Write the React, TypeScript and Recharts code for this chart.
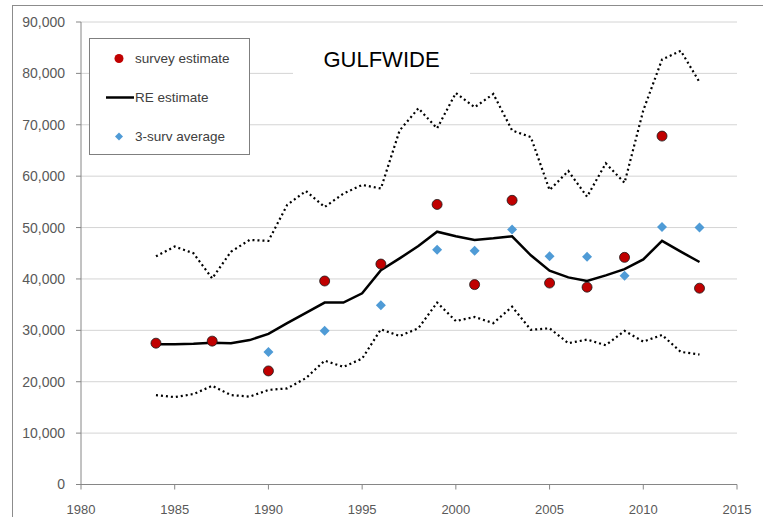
import { ComposedChart, Line, Scatter, XAxis, YAxis, CartesianGrid } from 'recharts';

const years = [
  1984, 1985, 1986, 1987, 1988, 1989, 1990, 1991, 1992, 1993,
  1994, 1995, 1996, 1997, 1998, 1999, 2000, 2001, 2002, 2003,
  2004, 2005, 2006, 2007, 2008, 2009, 2010, 2011, 2012, 2013
];

const reEstimate = [
  27300, 27300, 27400, 27600, 27500, 28100, 29300, 31400, 33400, 35400,
  35400, 37200, 41700, 44000, 46400, 49200, 48300, 47600, 47900, 48300,
  44600, 41600, 40300, 39600, 40700, 41900, 43800, 47400, 45300, 43300
];

const upperBound = [
  44400, 46300, 45000, 40100, 45300, 47600, 47400, 54400, 57100, 54000,
  56600, 58300, 57600, 68900, 73200, 69300, 76200, 73400, 76000, 68900,
  67600, 57300, 61000, 56000, 62500, 58700, 72800, 82700, 84400, 78300
];

const lowerBound = [
  17400, 17000, 17600, 19200, 17400, 17100, 18400, 18700, 20700, 24100,
  22900, 24500, 30200, 28900, 30400, 35400, 31800, 32600, 31400, 34600,
  30100, 30400, 27500, 28200, 27100, 29900, 27800, 29100, 25800, 25300
];

const surveyYears = [1984, 1987, 1990, 1993, 1996, 1999, 2001, 2003, 2005, 2007, 2009, 2011, 2013];
const surveyEstimate = [27500, 27900, 22100, 39600, 42900, 54500, 38900, 55300, 39200, 38400, 44200, 67800, 38200];

const avgYears = [1990, 1993, 1996, 1999, 2001, 2003, 2005, 2007, 2009, 2011, 2013];
const threeSurvAverage = [25800, 29900, 34900, 45700, 45500, 49600, 44400, 44300, 40600, 50100, 50000];

const xTicks = [1980, 1985, 1990, 1995, 2000, 2005, 2010, 2015];
const yTicks = [0, 10000, 20000, 30000, 40000, 50000, 60000, 70000, 80000, 90000];

const legendLabels = ['survey estimate', 'RE estimate', '3-surv average'];

const annual = years.map((year, i) => ({
  year,
  re: reEstimate[i],
  upper: upperBound[i],
  lower: lowerBound[i]
}));
const surveyData = surveyYears.map((year, i) => ({ year, value: surveyEstimate[i] }));
const avgData = avgYears.map((year, i) => ({ year, value: threeSurvAverage[i] }));

const FONT = '"Liberation Sans", Arial, sans-serif';
const RED = '#c00000';
const BLUE = '#4f9bd6';

const RedDot = (props: any) => (
  <circle cx={props.cx} cy={props.cy} r={5} fill={RED} stroke="#1a1a1a" strokeWidth={0.8} />
);

const Diamond = (props: any) => {
  const { cx, cy } = props;
  const s = 5;
  return <polygon points={`${cx},${cy - s} ${cx + s},${cy} ${cx},${cy + s} ${cx - s},${cy}`} fill={BLUE} />;
};

function LegendIcon({ index }: { index: number }) {
  return (
    <svg width={45} height={39} style={{ flex: 'none' }}>
      {index === 0 && <circle cx={29} cy={19.5} r={4.5} fill={RED} />}
      {index === 1 && <line x1={16} x2={44} y1={19.5} y2={19.5} stroke="#000" strokeWidth={2.5} />}
      {index === 2 && <polygon points="29,15.5 33,19.5 29,23.5 25,19.5" fill={BLUE} />}
    </svg>
  );
}

export default function App() {
  return (
    <div style={{ position: 'absolute', left: 0, top: 0, width: 763, height: 517, overflow: 'hidden', background: '#fff' }}>
      <div
        style={{
          position: 'absolute', left: 12, top: 5, width: 900, height: 700,
          borderTop: '1px solid #8c8c8c', borderLeft: '1px solid #8c8c8c'
        }}
      />
      <ComposedChart
        width={763}
        height={517}
        data={annual}
        margin={{ top: 22, right: 26, left: 0, bottom: 0 }}
        style={{ position: 'absolute', left: 0, top: 0 }}
      >
        <CartesianGrid vertical={false} stroke="#d4d4d4" strokeWidth={1} />
        <XAxis
          dataKey="year"
          type="number"
          domain={[1980, 2015]}
          ticks={xTicks}
          height={32.5}
          allowDecimals={false}
          stroke="#868686"
          tickSize={5}
          tickMargin={15}
          tick={{ fill: '#595959', fontSize: 13, fontFamily: FONT }}
        />
        <YAxis
          type="number"
          domain={[0, 90000]}
          ticks={yTicks}
          width={81}
          stroke="#868686"
          tickSize={5}
          tickMargin={11}
          tickFormatter={(v: number) => v.toLocaleString('en-US')}
          tick={{ fill: '#595959', fontSize: 14, fontFamily: FONT }}
        />
        <Line
          dataKey="upper"
          stroke="#000"
          strokeWidth={2.2}
          strokeDasharray="2 3"
          dot={false}
          activeDot={false}
          isAnimationActive={false}
        />
        <Line
          dataKey="lower"
          stroke="#000"
          strokeWidth={2.2}
          strokeDasharray="2 3"
          dot={false}
          activeDot={false}
          isAnimationActive={false}
        />
        <Line
          dataKey="re"
          name="RE estimate"
          stroke="#000"
          strokeWidth={2.5}
          dot={false}
          activeDot={false}
          isAnimationActive={false}
        />
        <Scatter
          data={avgData}
          dataKey="value"
          name="3-surv average"
          fill={BLUE}
          shape={Diamond}
          isAnimationActive={false}
        />
        <Scatter
          data={surveyData}
          dataKey="value"
          name="survey estimate"
          fill={RED}
          shape={RedDot}
          isAnimationActive={false}
        />
      </ComposedChart>
      <div
        style={{
          position: 'absolute', left: 89, top: 38, width: 159, height: 115,
          border: '1px solid #7f7f7f', background: '#fff'
        }}
      >
        {legendLabels.map((label, i) => (
          <div key={label} style={{ height: 39, display: 'flex', alignItems: 'center' }}>
            <LegendIcon index={i} />
            <span style={{ fontFamily: FONT, fontSize: 13.5, color: '#404040' }}>{label}</span>
          </div>
        ))}
      </div>
      <div
        style={{
          position: 'absolute', left: 293, top: 42, width: 177, height: 36,
          background: '#fff', textAlign: 'center', lineHeight: '36px',
          fontFamily: FONT, fontSize: 22, color: '#000'
        }}
      >
        GULFWIDE
      </div>
    </div>
  );
}
